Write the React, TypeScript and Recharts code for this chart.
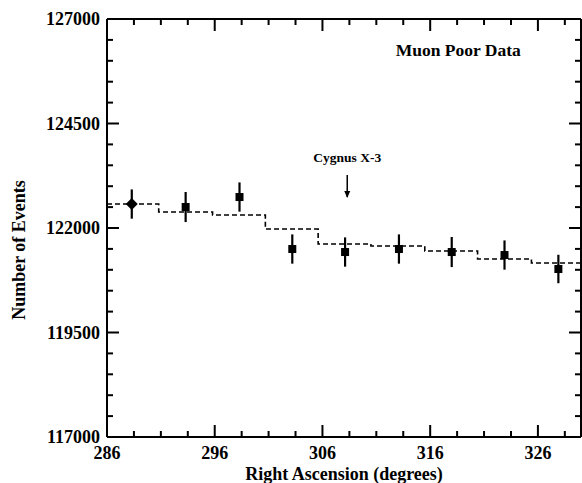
import {
  ComposedChart,
  Scatter,
  Line,
  XAxis,
  YAxis,
  ErrorBar,
  ReferenceDot,
} from "recharts";

const raDeg = [288.3, 293.3, 298.3, 303.2, 308.1, 313.1, 318.0, 322.9, 327.9];
const events = [122573, 122502, 122741, 121497, 121425, 121497, 121425, 121353, 121019];
const eventErr = [350, 360, 350, 350, 350, 350, 360, 350, 340];

const stepEdges = [286, 290.8, 295.8, 300.7, 305.6, 310.5, 315.5, 320.4, 325.4, 330];
const stepLevels = [122573, 122382, 122310, 121975, 121617, 121569, 121449, 121258, 121162, 121162];

const xTicks = [
  286, 288.5, 291, 293.5, 296, 298.5, 301, 303.5, 306, 308.5, 311, 313.5, 316, 318.5, 321,
  323.5, 326, 328.5,
];
const xMajor = [286, 296, 306, 316, 326];
const yTicks = [
  117000, 117500, 118000, 118500, 119000, 119500, 120000, 120500, 121000, 121500, 122000,
  122500, 123000, 123500, 124000, 124500, 125000, 125500, 126000, 126500, 127000,
];
const yMajor = [117000, 119500, 122000, 124500, 127000];

const points = raDeg.map((x, i) => ({ x, y: events[i], err: eventErr[i] }));
const steps = stepEdges.map((x, i) => ({ x, level: stepLevels[i] }));

const FONT = "'Liberation Serif', 'DejaVu Serif', serif";

type TickProps = { x: number; y: number; payload: { value: number } };

function BottomTick({ x, y, payload }: TickProps) {
  const major = xMajor.includes(payload.value);
  return (
    <g>
      <line x1={x} y1={y} x2={x} y2={y - (major ? 12 : 6)} stroke="#000" strokeWidth={2} />
      {major && (
        <text x={x} y={y + 22} textAnchor="middle" fontFamily={FONT} fontWeight="bold" fontSize={18} fill="#000">
          {payload.value}
        </text>
      )}
    </g>
  );
}

function TopTick({ x, y, payload }: TickProps) {
  const major = xMajor.includes(payload.value);
  return <line x1={x} y1={y} x2={x} y2={y + (major ? 12 : 6)} stroke="#000" strokeWidth={2} />;
}

function LeftTick({ x, y, payload }: TickProps) {
  const major = yMajor.includes(payload.value);
  return (
    <g>
      <line x1={x} y1={y} x2={x + (major ? 12 : 6)} y2={y} stroke="#000" strokeWidth={2} />
      {major && (
        <text x={x - 7} y={y + 6} textAnchor="end" fontFamily={FONT} fontWeight="bold" fontSize={18} fill="#000">
          {payload.value}
        </text>
      )}
    </g>
  );
}

function RightTick({ x, y, payload }: TickProps) {
  const major = yMajor.includes(payload.value);
  return <line x1={x} y1={y} x2={x - (major ? 12 : 6)} y2={y} stroke="#000" strokeWidth={2} />;
}

function PointShape(props: any) {
  const { cx, cy, index } = props;
  if (index === 0) {
    return <polygon points={`${cx},${cy - 6} ${cx + 6},${cy} ${cx},${cy + 6} ${cx - 6},${cy}`} fill="#000" />;
  }
  return <rect x={cx - 4} y={cy - 4} width={8} height={8} fill="#000" />;
}

function CygnusMark(props: any) {
  const { cx, cy } = props;
  return (
    <g>
      <text x={cx} y={cy - 13} textAnchor="middle" fontFamily={FONT} fontWeight="bold" fontSize={13.5} fill="#000">
        Cygnus X-3
      </text>
      <line x1={cx} y1={cy} x2={cx} y2={cy + 22} stroke="#000" strokeWidth={1.5} />
      <polygon points={`${cx - 3},${cy + 16} ${cx + 3},${cy + 16} ${cx},${cy + 23}`} fill="#000" />
    </g>
  );
}

function TitleMark(props: any) {
  const { cx, cy } = props;
  return (
    <text x={cx} y={cy} textAnchor="middle" fontFamily={FONT} fontWeight="bold" fontSize={17.5} fill="#000">
      Muon Poor Data
    </text>
  );
}

export default function App() {
  return (
    <div style={{ position: "absolute", left: 0, top: 0, width: 582, height: 483, background: "#fff" }}>
      <ComposedChart width={582} height={483} margin={{ top: 0, right: 0, bottom: 0, left: 0 }}>
        <XAxis
          xAxisId="bottom"
          dataKey="x"
          type="number"
          domain={[286, 330]}
          allowDataOverflow
          ticks={xTicks}
          interval={0}
          height={46}
          tickSize={0}
          tickMargin={0}
          tickLine={false}
          tick={BottomTick as any}
          axisLine={{ stroke: "#000", strokeWidth: 2 }}
          label={{
            value: "Right Ascension (degrees)",
            position: "insideBottom",
            offset: 3,
            style: { fontFamily: FONT, fontWeight: "bold", fontSize: 18, fill: "#000" },
          }}
        />
        <XAxis
          xAxisId="top"
          orientation="top"
          dataKey="x"
          type="number"
          domain={[286, 330]}
          allowDataOverflow
          ticks={xTicks}
          interval={0}
          height={19}
          tickSize={0}
          tickMargin={0}
          tickLine={false}
          tick={TopTick as any}
          axisLine={{ stroke: "#000", strokeWidth: 2 }}
        />
        <YAxis
          yAxisId="left"
          type="number"
          domain={[117000, 127000]}
          allowDataOverflow
          ticks={yTicks}
          interval={0}
          width={107}
          tickSize={0}
          tickMargin={0}
          tickLine={false}
          tick={LeftTick as any}
          axisLine={{ stroke: "#000", strokeWidth: 2 }}
          label={{
            value: "Number of Events",
            angle: -90,
            position: "insideLeft",
            offset: 19,
            dy: 22,
            style: { fontFamily: FONT, fontWeight: "bold", fontSize: 18, fill: "#000", textAnchor: "middle" },
          }}
        />
        <YAxis
          yAxisId="right"
          orientation="right"
          type="number"
          domain={[117000, 127000]}
          allowDataOverflow
          ticks={yTicks}
          interval={0}
          width={1}
          tickSize={0}
          tickMargin={0}
          tickLine={false}
          tick={RightTick as any}
          axisLine={{ stroke: "#000", strokeWidth: 2 }}
        />
        <Line
          xAxisId="bottom"
          yAxisId="left"
          data={steps}
          dataKey="level"
          type="stepAfter"
          stroke="#000"
          strokeWidth={1.6}
          strokeDasharray="5 3"
          dot={false}
          activeDot={false}
          isAnimationActive={false}
        />
        <Scatter
          xAxisId="bottom"
          yAxisId="left"
          data={points}
          dataKey="y"
          fill="#000"
          shape={PointShape}
          isAnimationActive={false}
        >
          <ErrorBar dataKey="err" direction="y" width={0} stroke="#000" strokeWidth={2.2} />
        </Scatter>
        <ReferenceDot
          xAxisId="bottom"
          yAxisId="left"
          x={308.3}
          y={123268}
          r={0}
          shape={CygnusMark}
        />
        <ReferenceDot
          xAxisId="bottom"
          yAxisId="left"
          x={318.6}
          y={126115}
          r={0}
          shape={TitleMark}
        />
      </ComposedChart>
    </div>
  );
}
